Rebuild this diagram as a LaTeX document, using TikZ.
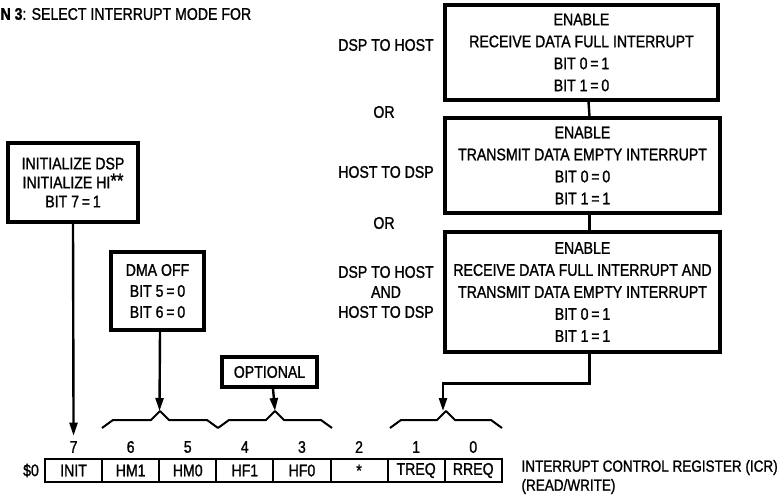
\documentclass[tikz,border=0pt]{standalone}
\usepackage{fontspec}
\setmainfont{Liberation Sans}[FakeStretch=0.84,FakeBold=1.2]
\usepackage{tikz}
\usetikzlibrary{arrows.meta,positioning}

\begin{document}
\begin{tikzpicture}[x=1pt,y=-1pt,font=\fontsize{16.8}{22}\selectfont,
  modebox/.style={draw, line width=3.2pt, align=center, inner sep=0pt},
  cell/.style={draw, line width=2pt, minimum width=57.1pt, minimum height=23pt, inner sep=0pt},
  brace/.style={line width=2pt, line join=round},
  arr/.style={line width=2.4pt, -{Triangle[length=13pt,width=8pt]}}]
\useasboundingbox (0,0) rectangle (780,496);
% heading (cut off at the left)
\node[anchor=west] (title) at (-3,14) {\textbf{N 3}: SELECT INTERRUPT MODE FOR};
% interrupt modes, right column
\node[modebox, minimum width=273pt, minimum height=95pt] (m1) at (581.5,52.5)
  {ENABLE\\RECEIVE DATA FULL INTERRUPT\\BIT 0\,=\,1\\BIT 1\,=\,0};
\node[modebox, minimum width=275pt, minimum height=95pt] (m2) at (582.5,165.5)
  {ENABLE\\TRANSMIT DATA EMPTY INTERRUPT\\BIT 0\,=\,0\\BIT 1\,=\,1};
\node[modebox, minimum width=275pt, minimum height=120pt] (m3) at (582.5,292)
  {ENABLE\\RECEIVE DATA FULL INTERRUPT AND\\TRANSMIT DATA EMPTY INTERRUPT\\BIT 0\,=\,1\\BIT 1\,=\,1};
\draw[line width=2.4pt] ([xshift=7pt]m1.south) -- ([xshift=7pt]m2.north);
\draw[line width=2.4pt] ([xshift=7pt]m2.south) -- ([xshift=7pt]m3.north);
% direction labels
\node (d1) at (386,45) {DSP TO HOST};
\node (or1) at (384,112) {OR};
\node (d2) at (386,172) {HOST TO DSP};
\node (or2) at (384,223) {OR};
\node[align=center, font=\fontsize{16.8}{20}\selectfont] (d3) at (386,292) {DSP TO HOST\\AND\\HOST TO DSP};
% left boxes
\node[modebox, minimum width=130pt, minimum height=79pt,
  font=\fontsize{16.8}{19}\selectfont] (init) at (73,182.5)
  {INITIALIZE DSP\\INITIALIZE HI\raisebox{1pt}{\fontsize{20}{20}\selectfont**}\\BIT 7\,=\,1};
\node[modebox, minimum width=93pt, minimum height=78pt,
  font=\fontsize{16.8}{21}\selectfont] (dma) at (157.5,291)
  {DMA OFF\\BIT 5\,=\,0\\BIT 6\,=\,0};
\node[modebox, minimum width=95pt, minimum height=30pt] (opt) at (269.5,372) {OPTIONAL};
% register cells and bit numbers
\foreach \b/\t [count=\i from 0] in {7/INIT,6/HM1,5/HM0,4/HF1,3/HF0,2/*,1/TREQ,0/RREQ}{
  \node[cell] (c\b) at ({45+57.1*(\i+0.5)},470.5) {\t};
  \node (n\b) at ({45+57.1*(\i+0.5)},447) {\b};
}
\node (base) at (31,470.5) {\$0};
\node[anchor=west, align=left, font=\fontsize{16.1}{19}\selectfont] (icr) at (518,477)
  {INTERRUPT CONTROL REGISTER (ICR)\\(READ/WRITE)};
% braces over bit groups
\foreach \l/\r/\g in {102/218/a,218/332/b,390/502/c}{
  \draw[brace] (\l,428) -- ++(11,-8) -- ({(\l+\r)/2-9},420) -- ({(\l+\r)/2},411)
    -- ({(\l+\r)/2+9},420) -- (\r-11,420) -- (\r,428);
  \coordinate (pk\g) at ({(\l+\r)/2},411);
}
% arrows into the register
\draw[arr] (init.south) -- ([yshift=2pt]n7.north);
\draw[arr] ([xshift=2.5pt]dma.south) -- ([xshift=-0.5pt]pka);
\draw[arr] ([xshift=3.5pt]opt.south) -- (pkb);
\draw[arr] ([xshift=7pt]m3.south) -- ++(0,30) -| ([xshift=-3pt]pkc);
\end{tikzpicture}
\end{document}
